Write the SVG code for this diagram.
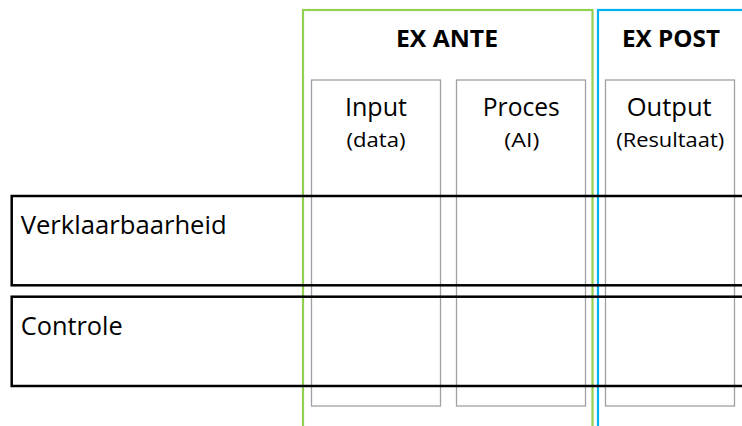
<svg xmlns="http://www.w3.org/2000/svg" width="742" height="426" viewBox="0 0 742 426">
<style>
.phase{fill:none;stroke-width:2.2}
.col{fill:none;stroke:#a0a0a0;stroke-width:1.3}
.row{fill:none;stroke:#000;stroke-width:2.5}
text{font-family:"Open Sans","Liberation Sans",sans-serif;fill:#000}
.title{font-weight:bold;font-size:24px;text-anchor:middle}
.head{font-size:26px;text-anchor:middle}
.sub{font-size:20px;text-anchor:middle}
.lab{font-size:25px}
</style>
<rect width="742" height="426" fill="#fff"/>
<g id="input"><rect class="col" x="311.5" y="80" width="129" height="326"/>
<text class="head" x="376" y="116" textLength="62" lengthAdjust="spacingAndGlyphs">Input</text>
<text class="sub" x="376" y="147" textLength="59" lengthAdjust="spacingAndGlyphs">(data)</text></g>
<g id="proces"><rect class="col" x="456.5" y="80" width="129" height="326"/>
<text class="head" x="521.3" y="116" textLength="77" lengthAdjust="spacingAndGlyphs">Proces</text>
<text class="sub" x="521.8" y="147" textLength="35" lengthAdjust="spacingAndGlyphs">(AI)</text></g>
<g id="output"><rect class="col" x="605.5" y="80" width="129" height="326"/>
<text class="head" x="669.2" y="116" textLength="85" lengthAdjust="spacingAndGlyphs">Output</text>
<text class="sub" x="670.2" y="147" textLength="108" lengthAdjust="spacingAndGlyphs">(Resultaat)</text></g>
<g id="exante"><rect class="phase" stroke="#92d050" x="303" y="10" width="289.5" height="430"/>
<text class="title" x="447" y="47" textLength="102" lengthAdjust="spacingAndGlyphs">EX ANTE</text></g>
<g id="expost"><rect class="phase" stroke="#00b0f0" stroke-width="2.6" x="598" y="10" width="160" height="430"/>
<text class="title" x="671" y="47" textLength="98" lengthAdjust="spacingAndGlyphs">EX POST</text></g>
<g id="verklaarbaarheid"><rect class="row" x="11.7" y="196" width="750" height="89.3"/>
<text class="lab" x="20.7" y="233.5" textLength="206" lengthAdjust="spacingAndGlyphs">Verklaarbaarheid</text></g>
<g id="controle"><rect class="row" x="11.7" y="296.7" width="750" height="89.3"/>
<text class="lab" x="20.7" y="334.5" textLength="102" lengthAdjust="spacingAndGlyphs">Controle</text></g>
<g id="connectors"></g>
</svg>
